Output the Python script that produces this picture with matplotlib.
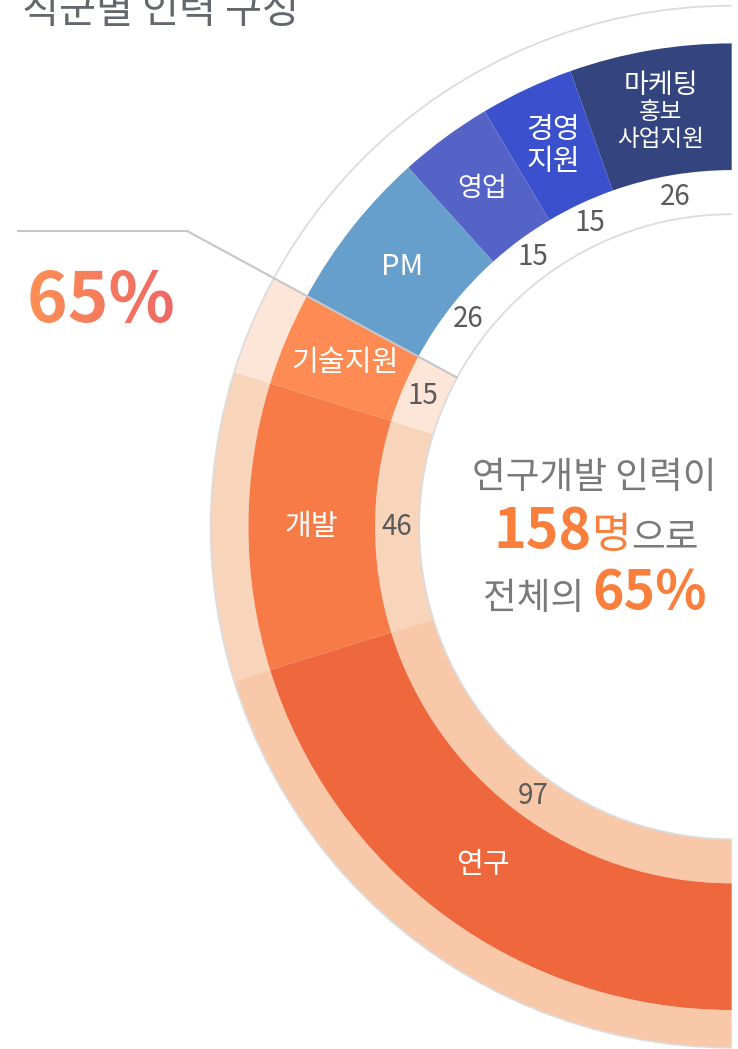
import numpy as np
import matplotlib
matplotlib.use('Agg')
import matplotlib.pyplot as plt
from matplotlib.patches import Wedge, Arc, PathPatch
from matplotlib.textpath import TextPath
from matplotlib.font_manager import FontProperties
from matplotlib.colors import LinearSegmentedColormap

plt.rcParams['font.family'] = ['Noto Sans CJK KR', 'DejaVu Sans']

# ---------------- data ----------------
title = '직군별 인력 구성'
categories = ['마케팅\n홍보\n사업지원', '경영\n지원', '영업', 'PM', '기술지원', '개발', '연구']
values = [26, 15, 15, 26, 15, 46, 97]
rd_count = 158      # 연구 + 개발 + 기술지원
rd_share = 65       # %

# ---------------- style ----------------
seg_colors = ['#34447e', '#3a50cc', '#5563c7', '#679fcc', '#fd8b53', '#f77b47', '#ef673c']
band_colors = [None, None, None, None, '#fde6d8', '#f8d4bb', '#f8c8a8']
label_sizes = [[19.5, 17, 17], [21, 21], [19.5], [21], [21], [21], [21]]
label_gaps = [27, 32, 0, 0, 0, 0, 0]
ORANGE = '#fa7f3d'
GREY_TXT = '#7a7a7a'

W, H = 738, 1049
fig = plt.figure(figsize=(W / 100, H / 100), dpi=100)
ax = fig.add_axes([0, 0, 1, 1])
ax.axis('off')


def Y(yp):
    return H - yp


cx, cy = 731.7, Y(526.7)
R_OUT, R_MO, R_MI, R_IN = 521.0, 483.3, 356.6, 312.5
R_LABEL, R_NUM = 420.0, 335.0

total = sum(values)
deg = 180.0 / total
start = 90.0
bounds = []
for v, c, bc in zip(values, seg_colors, band_colors):
    t1, t2 = start, start + v * deg
    ax.add_patch(Wedge((cx, cy), R_MO, t1, t2, width=R_MO - R_MI,
                       facecolor=c, edgecolor='none', zorder=2))
    if bc:
        ax.add_patch(Wedge((cx, cy), R_OUT, t1, t2, width=R_OUT - R_MO,
                           facecolor=bc, edgecolor='none', zorder=1))
        ax.add_patch(Wedge((cx, cy), R_MI, t1, t2, width=R_MI - R_IN,
                           facecolor=bc, edgecolor='none', zorder=1))
    bounds.append((t1, t2))
    start = t2

# thin guide circles
for r in (R_OUT, R_IN):
    ax.add_patch(Arc((cx, cy), 2 * r, 2 * r, theta1=90, theta2=270,
                     color='#dcdcdc', lw=1.3, zorder=3))

# labels inside ring and counts in inner band
for i, (cat, v) in enumerate(zip(categories, values)):
    t1, t2 = bounds[i]
    tm = np.deg2rad((t1 + t2) / 2)
    lx, ly = cx + R_LABEL * np.cos(tm), cy + R_LABEL * np.sin(tm)
    lines = cat.split('\n')
    n = len(lines)
    for j, (ln, fs) in enumerate(zip(lines, label_sizes[i])):
        off = (j - (n - 1) / 2) * label_gaps[i]
        ax.text(lx, ly - off, ln, ha='center', va='center', color='white',
                fontsize=fs, zorder=6)
    nx, ny = cx + R_NUM * np.cos(tm), cy + R_NUM * np.sin(tm)
    ax.text(nx, ny, str(v), ha='center', va='center', color='#5a5a5a',
            fontsize=20, zorder=6)

# leader line along the boundary between PM and 기술지원
tb = np.deg2rad(bounds[3][1])
y_lead = Y(231)
x0, y0 = cx + R_IN * np.cos(tb), cy + R_IN * np.sin(tb)
t = (y_lead - cy) / np.sin(tb)
x1 = cx + t * np.cos(tb)
ax.plot([x0, x1, 17], [y0, y_lead, y_lead], color='#c6c6c6', lw=1.5,
        zorder=7, solid_capstyle='butt')

# title (cut at top, as in the original)
ax.text(22, Y(23), title, ha='left', va='baseline', fontsize=29,
        color='#64686d')

# gradient 65%
fp = FontProperties(family='Noto Sans CJK KR', weight='bold')
tp = TextPath((27, Y(322)), f'{rd_share}%', size=69, prop=fp)
patch = PathPatch(tp, facecolor='none', edgecolor='none')
ax.add_patch(patch)
bb = tp.get_extents()
grad = np.linspace(0, 1, 256).reshape(1, -1)
cmap = LinearSegmentedColormap.from_list('g', ['#fd8f55', '#ee6866'])
im = ax.imshow(grad, extent=[bb.x0, bb.x1, bb.y0, bb.y1], cmap=cmap,
               aspect='auto', origin='lower', zorder=5)
im.set_clip_path(patch)

ax.set_xlim(0, W)
ax.set_ylim(0, H)

# center rich text
renderer = fig.canvas.get_renderer()


def rich_line(pieces, xc, yb):
    texts = [ax.text(0, yb, s, ha='left', va='baseline', **kw) for s, kw in pieces]
    widths = [tx.get_window_extent(renderer).width for tx in texts]
    x = xc - sum(widths) / 2
    for tx, w in zip(texts, widths):
        tx.set_x(x)
        x += w


rich_line([('연구개발 인력이', dict(fontsize=26.4, color=GREY_TXT))], 594, Y(488))
rich_line([(str(rd_count), dict(fontsize=40, color=ORANGE, fontweight='bold')),
           ('명', dict(fontsize=31, color=ORANGE)),
           ('으로', dict(fontsize=26.4, color=GREY_TXT))], 596, Y(548))
rich_line([('전체의 ', dict(fontsize=26.4, color=GREY_TXT)),
           (f'{rd_share}%', dict(fontsize=38.5, color=ORANGE, fontweight='bold'))], 595, Y(609))

fig.savefig('out.png', dpi=100)
